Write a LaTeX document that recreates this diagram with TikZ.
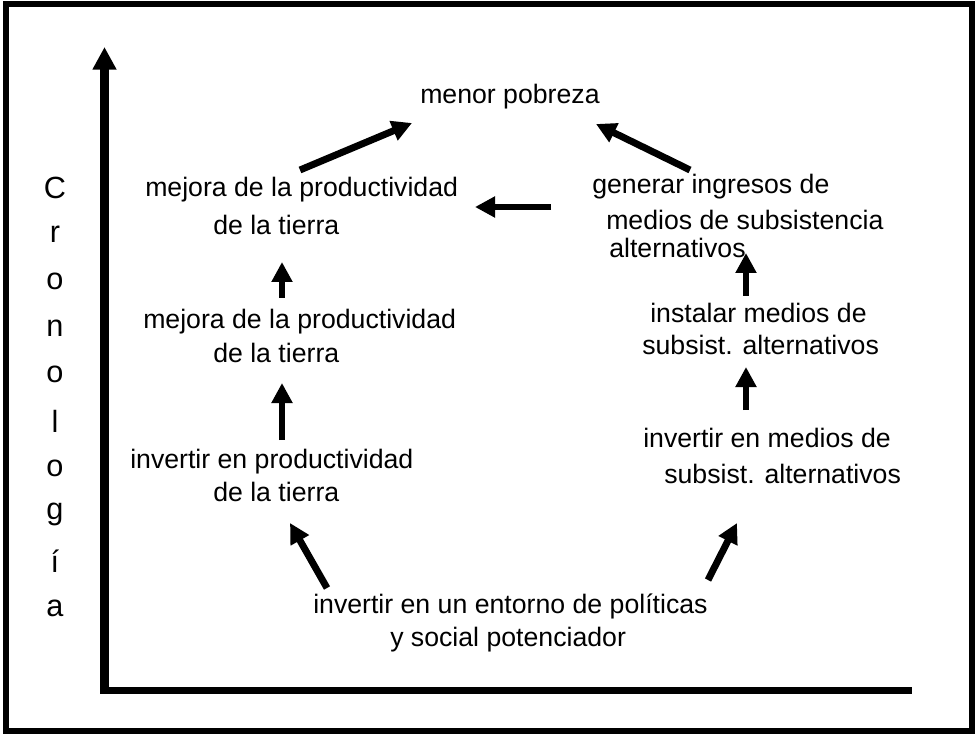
\documentclass[tikz,border=0pt]{standalone}
\usepackage{fontspec}
\setmainfont{Liberation Sans}
\usetikzlibrary{arrows.meta}

\begin{document}
\begin{tikzpicture}[x=0.75pt,y=-0.75pt,
    txt/.style={anchor=west,inner sep=0pt,font=\fontsize{20}{24}\selectfont},
    flecha/.style={line width=5.2pt,-{Triangle[length=15pt,width=15pt]}}]
        \useasboundingbox (0,0) rectangle (978,734);
        \draw[line width=5pt] (6,4) rectangle (972,731);

        % ejes
        \coordinate (O) at (104.5,690.5);
        \coordinate (Y) at (104.5,47);
        \coordinate (X) at (912,690.5);
        \draw[line width=6.5pt,-{Triangle[length=17pt,width=17pt]}] ([yshift=-2.5pt]O) -- (Y);
        \draw[line width=5.5pt] ([xshift=-2.5pt]O) -- (X);

        % Cronologia
        \foreach \l [count=\i from 0] in {C,r,o,n,o,l,o,g,í,a}
          \node[txt,anchor=center,font=\fontsize{23}{26}\selectfont] (c\i) at (55,188+\i*46.7) {\l};

        \node[txt] (P) at (420,97) {menor pobreza};

        \node[txt] (T1) at (145,190) {mejora de la productividad};
        \node[txt] (T1b) at (213,225) {de la tierra};
        \node[txt] (T2) at (143,322) {mejora de la productividad};
        \node[txt] (T2b) at (213,353) {de la tierra};
        \node[txt] (T3) at (130,462) {invertir en productividad};
        \node[txt] (T3b) at (213,492) {de la tierra};

        \node[txt] (M1) at (592,187) {generar ingresos de};
        \node[txt] (M1b) at (606,220) {medios de subsistencia};
        \node[txt] (M1c) at (609,248) {alternativos};
        \node[txt] (M2) at (650,313) {instalar medios de};
        \node[txt] (M2b) at (642,345) {subsist. alternativos};
        \node[txt] (M3) at (643,438) {invertir en medios de};
        \node[txt] (M3b) at (664,474) {subsist. alternativos};

        \node[txt] (E) at (313,606) {invertir en un entorno de políticas};
        \node[txt] (Eb) at (390,640) {y social potenciador};

        % flechas
        \coordinate (a1) at (300,170);  \coordinate (b1) at (412,123);
        \coordinate (a2) at (690,170);  \coordinate (b2) at (596,124);
        \coordinate (a3) at (551,207);  \coordinate (b3) at (475,207);
        \coordinate (a4) at (282,298);  \coordinate (b4) at (282,262);
        \coordinate (a5) at (282,440);  \coordinate (b5) at (282,383);
        \coordinate (a6) at (327,588);  \coordinate (b6) at (290,523);
        \coordinate (a7) at (708,580);  \coordinate (b7) at (737,523);
        \coordinate (a8) at (746,296);  \coordinate (b8) at (746,253);
        \coordinate (a9) at (746,410);  \coordinate (b9) at (746,367);
        \foreach \i in {1,...,9}
          \draw[flecha] (a\i) -- (b\i);

      \end{tikzpicture}
\end{document}
